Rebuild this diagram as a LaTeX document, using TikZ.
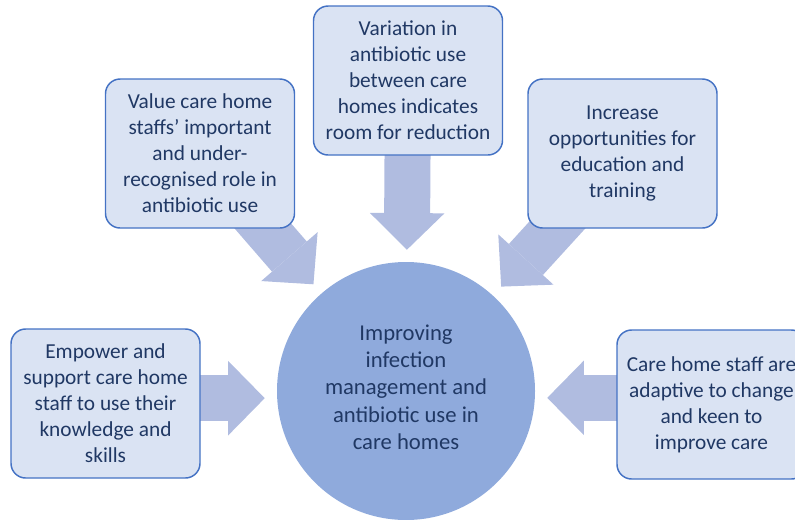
\documentclass[tikz,border=0pt]{standalone}
\usepackage{fontspec}
\setmainfont{Carlito}
\usetikzlibrary{arrows.meta,backgrounds}
\definecolor{boxfill}{HTML}{DAE3F3}
\definecolor{boxline}{HTML}{4472C4}
\definecolor{hubfill}{HTML}{8FAADC}
\definecolor{flowfill}{HTML}{B0BCE0}
\definecolor{textcol}{HTML}{203864}
\begin{document}
\begin{tikzpicture}[x=0.75pt,y=-0.75pt,
    idea/.style={draw=boxline,line width=1.1pt,fill=boxfill,rounded corners=11pt,
      minimum width=141.75pt,minimum height=111.75pt,inner sep=0pt,align=center,
      text=textcol,font=\fontsize{16}{19.5}\selectfont},
    goal/.style={circle,fill=hubfill,minimum size=193.5pt,inner sep=0pt,align=center,
      text=textcol,text depth=6pt,font=\fontsize{17}{20.5}\selectfont},
    flow/.style={draw=flowfill,line width=34.5pt,shorten >=9pt,
      -{Triangle[length=27.5pt,width=56pt,line width=0pt]}}]
  \useasboundingbox (0,0) rectangle (795,519);
  \node[idea] (var) at (408,80.5) {Variation in\\antibiotic use\\between care\\homes indicates\\room for reduction};
  \node[idea] (val) at (200,153.5) {Value care home\\staffs’ important\\and under-\\recognised role in\\antibiotic use};
  \node[idea] (inc) at (622.5,153.5) {Increase\\opportunities for\\education and\\training};
  \node[idea] (emp) at (105.5,403.5) {Empower and\\support care home\\staff to use their\\knowledge and\\skills};
  \node[idea] (care) at (711.5,404.5) {Care home staff are\\adaptive to change\\and keen to\\improve care};
  \node[goal] (hub) at (406,391) {Improving\\infection\\management and\\antibiotic use in\\care homes};
  \coordinate (empout) at ([yshift=4pt]emp.center);
  \coordinate (careout) at ([yshift=5pt]care.center);
  \begin{scope}[on background layer]
    \draw[flow] (var.center) -- (hub);
    \draw[flow] (val.center) -- (hub);
    \draw[flow] (inc.center) -- (hub);
    \draw[flow] (empout) -- (empout -| hub.west);
    \draw[flow] (careout) -- (careout -| hub.east);
  \end{scope}
\end{tikzpicture}
\end{document}
